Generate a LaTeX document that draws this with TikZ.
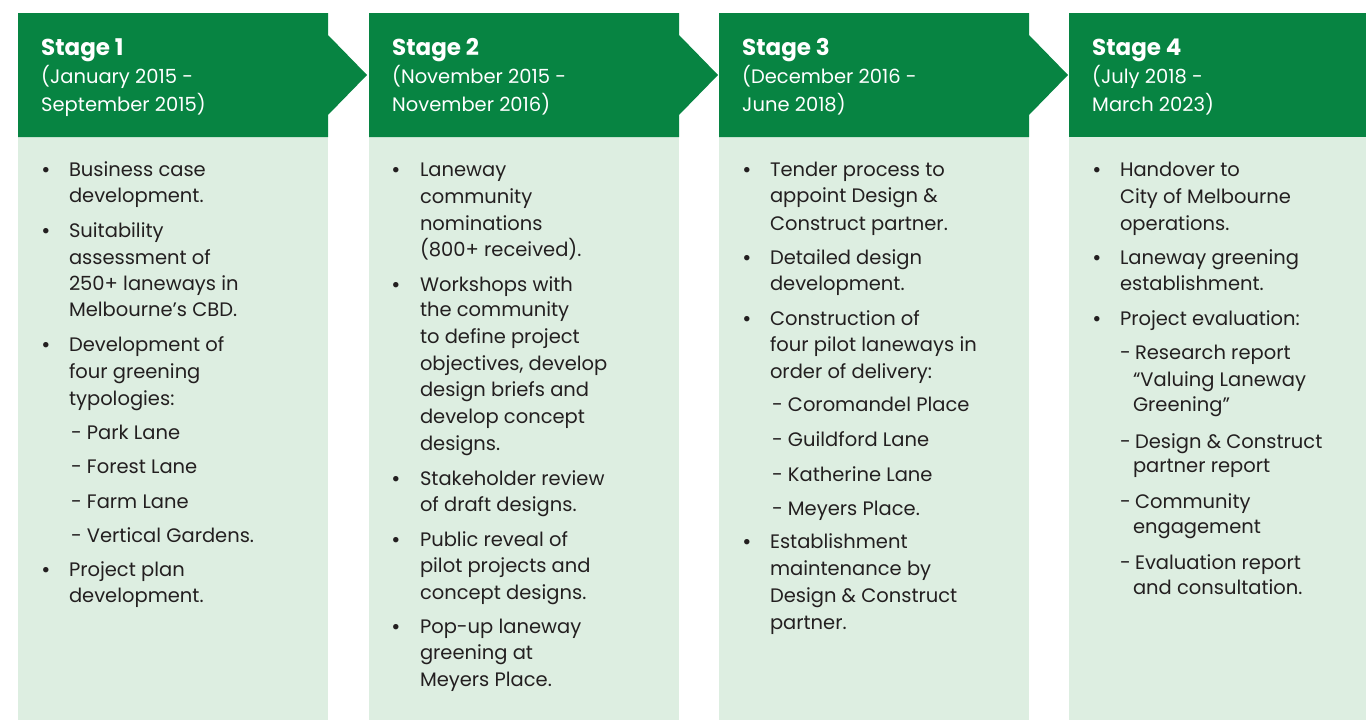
\documentclass[tikz,border=0pt]{standalone}
\usepackage{fontspec}
\setmainfont{Poppins}
\definecolor{dkgreen}{HTML}{078442}
\definecolor{ltgreen}{HTML}{DDEEE1}
\definecolor{ink}{HTML}{231F20}
\newcommand{\bodysize}{\fontsize{19.5}{24}\selectfont}
\tikzset{
  hdrbox/.style={fill=dkgreen, draw=none},
  bodybox/.style={fill=ltgreen, draw=none},
  txt/.style={anchor=base west, inner sep=0pt, outer sep=0pt, text=ink, font=\bodysize},
  bul/.style={anchor=base, inner sep=0pt, outer sep=0pt, text=ink, font=\fontsize{22}{24}\selectfont},
  stagetitle/.style={anchor=base west, inner sep=0pt, text=white, font=\fontsize{23}{28}\selectfont\bfseries},
  stagedate/.style={anchor=base west, inner sep=0pt, text=white, font=\bodysize},
}
\begin{document}
\begin{tikzpicture}[x=1pt,y=-1pt]
\useasboundingbox (0,0) rectangle (1366,720);
\fill[white] (0,0) rectangle (1366,720);
% body backgrounds
\fill[bodybox] (18,137) rectangle (328,720);
\fill[bodybox] (369,137) rectangle (679,720);
\fill[bodybox] (719,137) rectangle (1029,720);
\fill[bodybox] (1069,137) rectangle (1366,720);
% headers (arrow shapes)
\fill[hdrbox] (18,13) -- (328,13) -- (328,35) -- (367,75) -- (328,115) -- (328,137) -- (18,137) -- cycle;
\fill[hdrbox] (369,13) -- (679,13) -- (679,35) -- (718,75) -- (679,115) -- (679,137) -- (369,137) -- cycle;
\fill[hdrbox] (719,13) -- (1029,13) -- (1029,35) -- (1068,75) -- (1029,115) -- (1029,137) -- (719,137) -- cycle;
\fill[hdrbox] (1069,13) rectangle (1366,137);

% ---------- Stage 1 ----------
\node[stagetitle] (s1t) at (41,55) {Stage 1};
\node[stagedate] (s1d1) at (41,83.5) {(January 2015 -};
\node[stagedate] (s1d2) at (41,111.5) {September 2015)};
\node[bul] (a1) at (46,177) {•};
\node[txt] (a1l1) at (69,176) {Business case};
\node[txt] (a1l2) at (69,202.7) {development.};
\node[bul] (a2) at (46,238.3) {•};
\node[txt] (a2l1) at (69,237.3) {Suitability};
\node[txt] (a2l2) at (69,264) {assessment of};
\node[txt] (a2l3) at (69,290.7) {250+ laneways in};
\node[txt] (a2l4) at (69,316.7) {Melbourne’s CBD.};
\node[bul] (a3) at (46,352.7) {•};
\node[txt] (a3l1) at (69,351.7) {Development of};
\node[txt] (a3l2) at (69,378.3) {four greening};
\node[txt] (a3l3) at (69,405) {typologies:};
\node[txt] (a3s1) at (71,439.3) {- Park Lane};
\node[txt] (a3s2) at (71,473.3) {- Forest Lane};
\node[txt] (a3s3) at (71,508.3) {- Farm Lane};
\node[txt] (a3s4) at (71,542.7) {- Vertical Gardens.};
\node[bul] (a4) at (46,577.7) {•};
\node[txt] (a4l1) at (69,576.7) {Project plan};
\node[txt] (a4l2) at (69,602.7) {development.};

% ---------- Stage 2 ----------
\node[stagetitle] (s2t) at (392,55) {Stage 2};
\node[stagedate] (s2d1) at (392,83.5) {(November 2015 -};
\node[stagedate] (s2d2) at (392,111.5) {November 2016)};
\node[bul] (b1) at (396,177) {•};
\node[txt] (b1l1) at (420,176) {Laneway};
\node[txt] (b1l2) at (420,203) {community};
\node[txt] (b1l3) at (420,230) {nominations};
\node[txt] (b1l4) at (420,256.7) {(800+ received).};
\node[bul] (b2) at (396,292.7) {•};
\node[txt] (b2l1) at (420,291.7) {Workshops with};
\node[txt] (b2l2) at (420,316.7) {the community};
\node[txt] (b2l3) at (420,343.3) {to define project};
\node[txt] (b2l4) at (420,370) {objectives, develop};
\node[txt] (b2l5) at (420,396.7) {design briefs and};
\node[txt] (b2l6) at (420,423.3) {develop concept};
\node[txt] (b2l7) at (420,450.7) {designs.};
\node[bul] (b3) at (396,486) {•};
\node[txt] (b3l1) at (420,485) {Stakeholder review};
\node[txt] (b3l2) at (420,511.7) {of draft designs.};
\node[bul] (b4) at (396,547) {•};
\node[txt] (b4l1) at (420,546) {Public reveal of};
\node[txt] (b4l2) at (420,572.3) {pilot projects and};
\node[txt] (b4l3) at (420,599.3) {concept designs.};
\node[bul] (b5) at (396,634.3) {•};
\node[txt] (b5l1) at (420,633.3) {Pop-up laneway};
\node[txt] (b5l2) at (420,659.3) {greening at};
\node[txt] (b5l3) at (420,686.7) {Meyers Place.};

% ---------- Stage 3 ----------
\node[stagetitle] (s3t) at (742,55) {Stage 3};
\node[stagedate] (s3d1) at (742,83.5) {(December 2016 -};
\node[stagedate] (s3d2) at (742,111.5) {June 2018)};
\node[bul] (c1) at (747,177) {•};
\node[txt] (c1l1) at (770,176) {Tender process to};
\node[txt] (c1l2) at (770,202.7) {appoint Design \&};
\node[txt] (c1l3) at (770,230) {Construct partner.};
\node[bul] (c2) at (747,265) {•};
\node[txt] (c2l1) at (770,264) {Detailed design};
\node[txt] (c2l2) at (770,290.7) {development.};
\node[bul] (c3) at (747,326) {•};
\node[txt] (c3l1) at (770,325) {Construction of};
\node[txt] (c3l2) at (770,351.7) {four pilot laneways in};
\node[txt] (c3l3) at (770,378.3) {order of delivery:};
\node[txt] (c3s1) at (772,411.7) {- Coromandel Place};
\node[txt] (c3s2) at (772,446.7) {- Guildford Lane};
\node[txt] (c3s3) at (772,481) {- Katherine Lane};
\node[txt] (c3s4) at (772,515) {- Meyers Place.};
\node[bul] (c4) at (747,549.3) {•};
\node[txt] (c4l1) at (770,548.3) {Establishment};
\node[txt] (c4l2) at (770,575.7) {maintenance by};
\node[txt] (c4l3) at (770,602.3) {Design \& Construct};
\node[txt] (c4l4) at (770,629) {partner.};

% ---------- Stage 4 ----------
\node[stagetitle] (s4t) at (1092,55) {Stage 4};
\node[stagedate] (s4d1) at (1092,83.5) {(July 2018 -};
\node[stagedate] (s4d2) at (1092,111.5) {March 2023)};
\node[bul] (d1) at (1097,177) {•};
\node[txt] (d1l1) at (1120,176) {Handover to};
\node[txt] (d1l2) at (1120,203.3) {City of Melbourne};
\node[txt] (d1l3) at (1120,230) {operations.};
\node[bul] (d2) at (1097,265) {•};
\node[txt] (d2l1) at (1120,264) {Laneway greening};
\node[txt] (d2l2) at (1120,290.7) {establishment.};
\node[bul] (d3) at (1097,326) {•};
\node[txt] (d3l1) at (1120,325) {Project evaluation:};
\node[txt] (d3s1) at (1120,359.3) {-\hspace{0.22em}Research report};
\node[txt] (d3s1b) at (1133,386) {“Valuing Laneway};
\node[txt] (d3s1c) at (1133,411.7) {Greening”};
\node[txt] (d3s2) at (1120,448.3) {-\hspace{0.22em}Design \& Construct};
\node[txt] (d3s2b) at (1133,472.7) {partner report};
\node[txt] (d3s3) at (1120,508.3) {-\hspace{0.22em}Community};
\node[txt] (d3s3b) at (1133,533.3) {engagement};
\node[txt] (d3s4) at (1120,569.3) {-\hspace{0.22em}Evaluation report};
\node[txt] (d3s4b) at (1133,594) {and consultation.};
\end{tikzpicture}
\end{document}
